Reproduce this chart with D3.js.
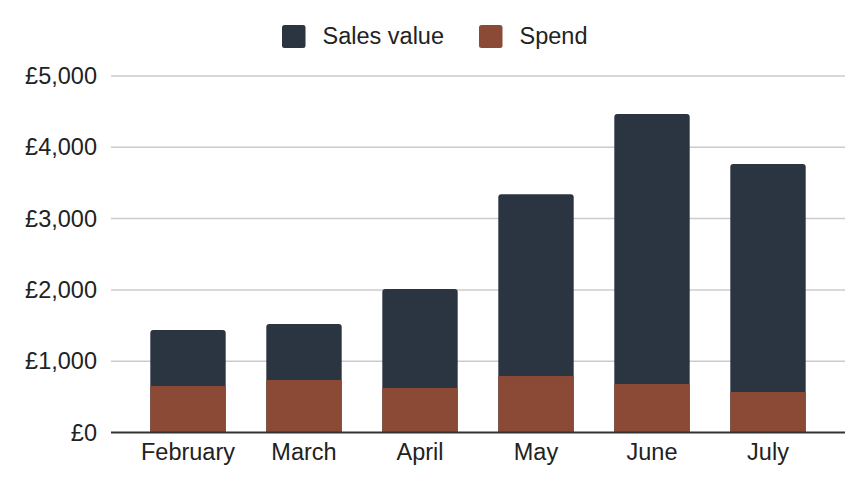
<!DOCTYPE html>
<html>
<head>
<meta charset="utf-8">
<script src="https://cdn.jsdelivr.net/npm/d3@7"></script>
<style>
  html, body { margin: 0; padding: 0; background: #fff; }
  svg { display: block; font-family: "Liberation Sans", Arial, Helvetica, sans-serif; }
</style>
</head>
<body>
<svg id="chart" width="868" height="492"></svg>
<script>
const months = ["February", "March", "April", "May", "June", "July"];
const salesValue = [1438, 1522, 2013, 3341, 4467, 3766];
const spend = [652, 736, 624, 792, 680, 568];
const yTicks = [0, 1000, 2000, 3000, 4000, 5000];
const seriesNames = ["Sales value", "Spend"];
const seriesColors = ["#2b3441", "#8b4a36"];

const svg = d3.select("#chart");
const W = 868, H = 492;
const gridLeft = 111, gridRight = 845;
const y0 = 432.5, yTop = 76;

const x = d3.scaleBand().domain(months).range([130, 826]).paddingInner(0.35).paddingOuter(0.175);
const y = d3.scaleLinear().domain([0, 5000]).range([y0, yTop]);

const fontSize = 23.5;

// gridlines
svg.append("g").selectAll("line").data(yTicks.filter(d => d > 0)).join("line")
  .attr("x1", gridLeft).attr("x2", gridRight)
  .attr("y1", d => y(d)).attr("y2", d => y(d))
  .attr("stroke", "#cccccc").attr("stroke-width", 1.5);

// y-axis labels
const fmt = d => "£" + d3.format(",")(d);
const yAxis = d3.axisLeft(y).tickValues(yTicks).tickFormat(fmt).tickSize(0).tickPadding(0);
const yg = svg.append("g").attr("transform", `translate(97,0)`).call(yAxis);
yg.select(".domain").remove();
yg.selectAll("text").attr("font-size", fontSize).attr("fill", "#222").attr("font-family", "'Liberation Sans', Arial, sans-serif");

// sales bars (full height, rounded tops)
const r = 3;
svg.append("g").selectAll("path").data(months).join("path")
  .attr("fill", seriesColors[0])
  .attr("d", (m, i) => {
    const bx = x(m), bw = x.bandwidth(), top = y(salesValue[i]), bot = y(0);
    return `M${bx},${bot} L${bx},${top + r} Q${bx},${top} ${bx + r},${top} L${bx + bw - r},${top} Q${bx + bw},${top} ${bx + bw},${top + r} L${bx + bw},${bot} Z`;
  });

// spend bars
svg.append("g").selectAll("rect").data(months).join("rect")
  .attr("x", m => x(m)).attr("width", x.bandwidth())
  .attr("y", (m, i) => y(spend[i]))
  .attr("height", (m, i) => y(0) - y(spend[i]))
  .attr("fill", seriesColors[1]);

// baseline
svg.append("line").attr("x1", gridLeft).attr("x2", gridRight)
  .attr("y1", y(0)).attr("y2", y(0)).attr("stroke", "#333").attr("stroke-width", 2);

// x-axis labels
const xAxis = d3.axisBottom(x).tickSize(0).tickPadding(0);
const xg = svg.append("g").attr("transform", `translate(0,${y0})`).call(xAxis);
xg.select(".domain").remove();
xg.selectAll("text").attr("font-size", fontSize).attr("fill", "#222")
  .attr("font-family", "'Liberation Sans', Arial, sans-serif")
  .attr("dy", null).attr("y", 27.5);

// legend
const legend = svg.append("g");
const legendX = [282, 479];
seriesNames.forEach((name, i) => {
  legend.append("rect").attr("x", legendX[i]).attr("y", 25).attr("width", 23.5).attr("height", 23)
    .attr("rx", 2.5).attr("fill", seriesColors[i]);
  legend.append("text").attr("x", legendX[i] + 40.5).attr("y", 44.3)
    .attr("font-size", fontSize).attr("fill", "#222").text(name);
});
</script>
</body>
</html>
